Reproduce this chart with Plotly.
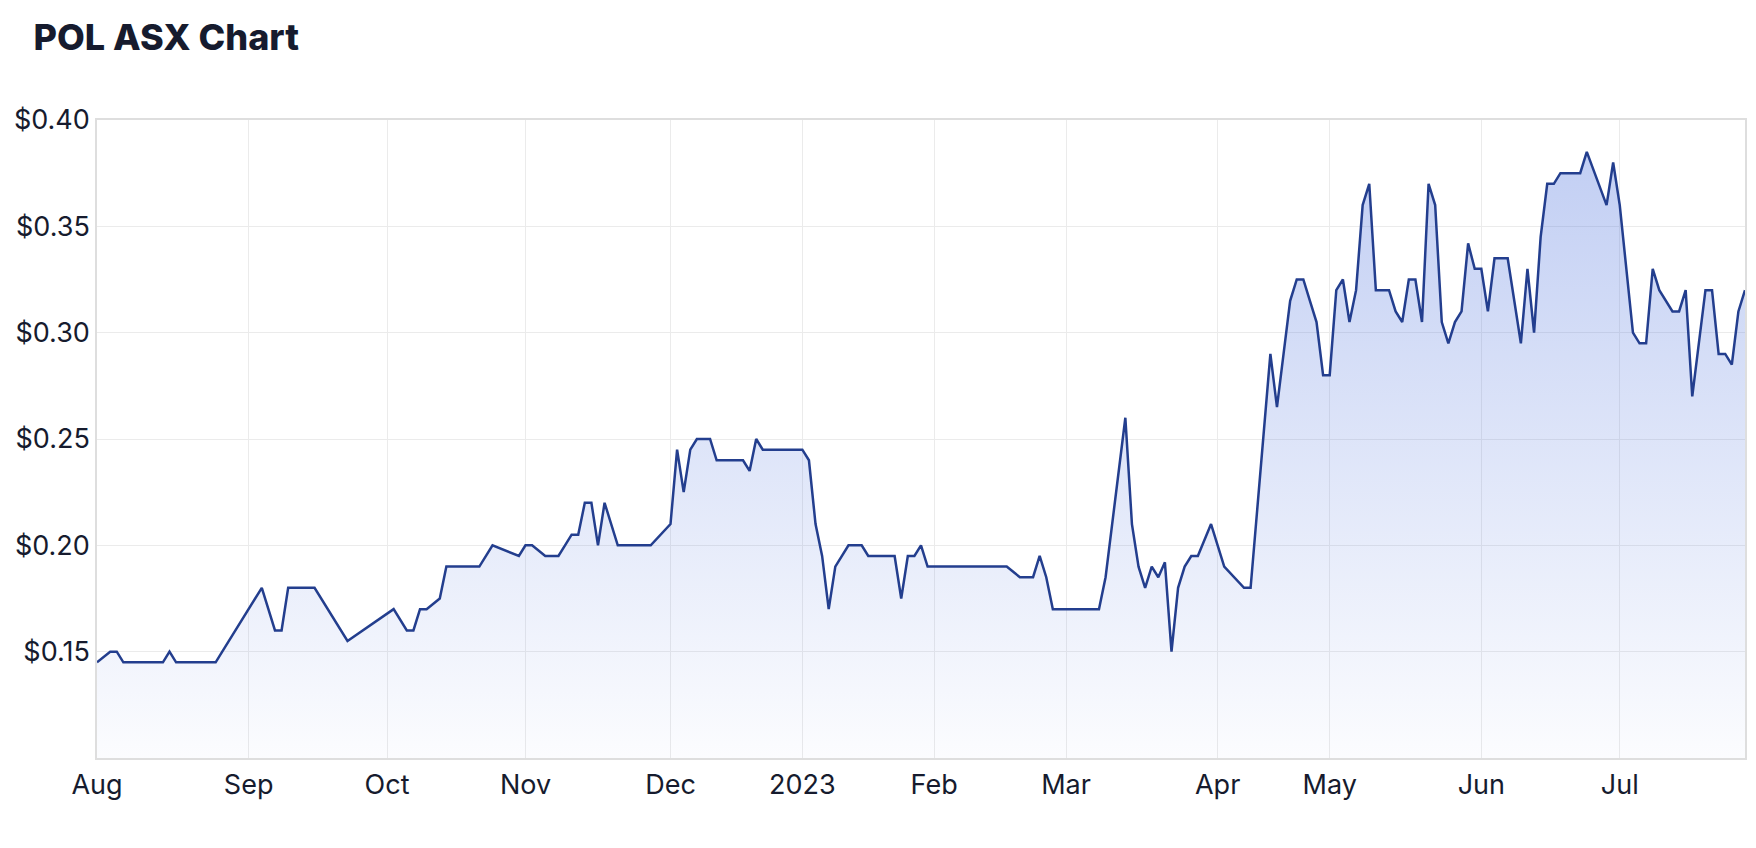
import plotly.graph_objects as go

# Trading-day index (0 = 1 Aug 2022, 250 = 28 Jul 2023) of each vertex of the price line
day_index = [0, 2, 3, 4, 10, 11, 12, 18, 19, 25, 26, 27, 28, 29, 33, 37, 38, 45, 47, 48,
             49, 50, 52, 53, 58, 60, 64, 65, 66, 68, 70, 71, 72, 73, 74, 75, 76, 77, 79, 84,
             87, 88, 89, 90, 91, 93, 94, 98, 99, 100, 101, 107, 108, 109, 110, 111, 112, 114, 116, 117,
             121, 122, 123, 124, 125, 126, 138, 140, 142, 143, 144, 145, 152, 153, 156, 157, 158, 159, 160, 161,
             162, 163, 164, 165, 166, 167, 169, 170, 171, 174, 175, 178, 179, 180, 181, 182, 183, 184, 185, 186,
             187, 188, 189, 190, 191, 192, 193, 194, 196, 197, 198, 199, 200, 201, 202, 203, 204, 205, 206, 207,
             208, 209, 210, 211, 212, 214, 216, 217, 218, 219, 220, 221, 222, 225, 226, 229, 230, 231, 233, 234,
             235, 236, 237, 239, 240, 241, 242, 244, 245, 246, 247, 248, 249, 250]

price = [0.145, 0.15, 0.15, 0.145, 0.145, 0.15, 0.145, 0.145, 0.15, 0.18, 0.17, 0.16, 0.16, 0.18, 0.18, 0.16, 0.155, 0.17, 0.16, 0.16,
         0.17, 0.17, 0.175, 0.19, 0.19, 0.20, 0.195, 0.20, 0.20, 0.195, 0.195, 0.20, 0.205, 0.205, 0.22, 0.22, 0.20, 0.22, 0.20, 0.20,
         0.21, 0.245, 0.225, 0.245, 0.25, 0.25, 0.24, 0.24, 0.235, 0.25, 0.245, 0.245, 0.24, 0.21, 0.195, 0.17, 0.19, 0.20, 0.20, 0.195,
         0.195, 0.175, 0.195, 0.195, 0.20, 0.19, 0.19, 0.185, 0.185, 0.195, 0.185, 0.17, 0.17, 0.185, 0.26, 0.21, 0.19, 0.18, 0.19, 0.185,
         0.192, 0.15, 0.18, 0.19, 0.195, 0.195, 0.21, 0.20, 0.19, 0.18, 0.18, 0.29, 0.265, 0.29, 0.315, 0.325, 0.325, 0.315, 0.305, 0.28,
         0.28, 0.32, 0.325, 0.305, 0.32, 0.36, 0.37, 0.32, 0.32, 0.31, 0.305, 0.325, 0.325, 0.305, 0.37, 0.36, 0.305, 0.295, 0.305, 0.31,
         0.342, 0.33, 0.33, 0.31, 0.335, 0.335, 0.295, 0.33, 0.30, 0.345, 0.37, 0.37, 0.375, 0.375, 0.385, 0.36, 0.38, 0.36, 0.30, 0.295,
         0.295, 0.33, 0.32, 0.31, 0.31, 0.32, 0.27, 0.32, 0.32, 0.29, 0.29, 0.285, 0.31, 0.32]

# First trading day of each month (trading-day index) and its label
month_index = [0, 23, 44, 65, 87, 107, 127, 147, 170, 187, 210, 231]
month_labels = ["Aug", "Sep", "Oct", "Nov", "Dec", "2023", "Feb", "Mar", "Apr", "May", "Jun", "Jul"]

y_ticks = [0.15, 0.20, 0.25, 0.30, 0.35, 0.40]
y_labels = ["$%.2f" % v for v in y_ticks]

LINE = "#233e8e"
GRID = "#ebebeb"
AXIS = "#dedede"
TEXT = "#161b2e"
FONT = "Inter"

# The page body has an 8px default margin; the figure is sized so it fits the window.
W, H = 1740, 832

fig = go.Figure()
fig.add_trace(go.Scatter(
    x=day_index, y=price, mode="lines",
    line=dict(color=LINE, width=2.5),
    fill="tozeroy",
    fillgradient=dict(type="vertical",
                      colorscale=[[0, "rgba(72,110,220,0.02)"], [1, "rgba(72,110,220,0.35)"]],
                      start=0.10, stop=0.40),
    hoverinfo="skip", showlegend=False,
))

fig.update_layout(
    width=W, height=H,
    margin=dict(l=89, r=3, t=112, b=82),
    paper_bgcolor="white", plot_bgcolor="white",
    font=dict(family=FONT, color=TEXT, size=27),
    title=dict(text="POL ASX Chart", x=25.5 / W, xanchor="left", xref="container",
               y=1 - 29 / H, yanchor="middle", yref="container",
               font=dict(family=FONT, size=36, color=TEXT, weight=800)),
)
fig.update_xaxes(
    range=[0, 250], tickvals=month_index, ticktext=month_labels,
    showgrid=True, gridcolor=GRID, gridwidth=1,
    showline=True, linecolor=AXIS, linewidth=1.5, mirror=True,
    zeroline=False, ticks="", ticklabelstandoff=2, automargin=False,
    tickfont=dict(family=FONT, size=27, color=TEXT),
)
fig.update_yaxes(
    range=[0.10, 0.40], tickvals=y_ticks, ticktext=y_labels,
    showgrid=True, gridcolor=GRID, gridwidth=1,
    showline=True, linecolor=AXIS, linewidth=1.5, mirror=True,
    zeroline=False, ticks="", ticklabelstandoff=0, automargin=False,
    tickfont=dict(family=FONT, size=27, color=TEXT),
)

fig.write_html("out.html")
